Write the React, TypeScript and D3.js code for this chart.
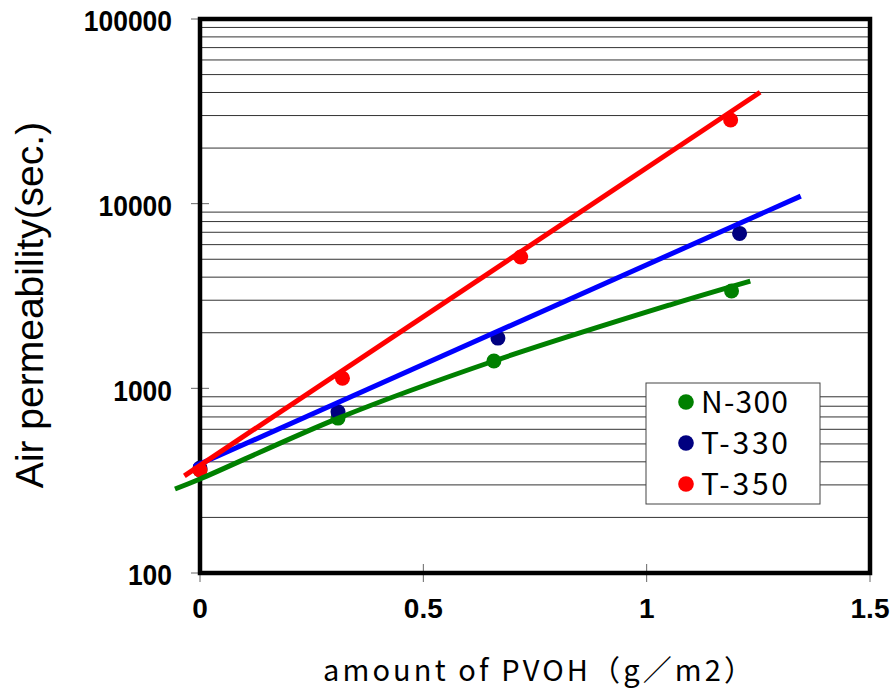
import React from "react";
import * as d3 from "d3";

// measured points
const n300Pts = [
  [0, 361],
  [0.309, 690],
  [0.658, 1406],
  [1.19, 3365],
];
const t330Pts = [
  [0, 370],
  [0.309, 746],
  [0.667, 1871],
  [1.208, 6904],
];
const t350Pts = [
  [0, 361],
  [0.319, 1133],
  [0.718, 5140],
  [1.188, 28400],
];

// trend lines
const n300Trend = [
  [-0.056, 285],
  [0, 323],
  [0.31, 690],
  [0.658, 1406],
  [1.051, 2826],
  [1.232, 3810],
];
const t330Trend = [
  [-0.013, 377],
  [1.345, 10990],
];
const t350Trend = [
  [-0.035, 336],
  [1.254, 40100],
];

const seriesNames = ["N-300", "T-330", "T-350"];
const xTicks = [0, 0.5, 1, 1.5];
const xTickLabels = ["0", "0.5", "1", "1.5"];
const yTicks = [100, 1000, 10000, 100000];
const yTickLabels = ["100", "1000", "10000", "100000"];

const W = 890;
const H = 691;
const plot = { left: 200, right: 870, top: 19, bottom: 573 };

export default function App() {
  const x = d3.scaleLinear().domain([0, 1.5]).range([plot.left, plot.right]);
  const y = d3.scaleLog().domain([100, 100000]).range([plot.bottom, plot.top]);

  const minorVals: number[] = [];
  [100, 1000, 10000].forEach((dec) => {
    for (let k = 2; k <= 9; k++) minorVals.push(dec * k);
  });

  const straight = d3
    .line<number[]>()
    .x((d) => x(d[0]))
    .y((d) => y(d[1]));
  const smooth = d3
    .line<number[]>()
    .x((d) => x(d[0]))
    .y((d) => y(d[1]))
    .curve(d3.curveCatmullRom);

  const series = [
    { name: seriesNames[0], pts: n300Pts, trend: n300Trend, line: "#008000", dot: "#008000", gen: smooth },
    { name: seriesNames[1], pts: t330Pts, trend: t330Trend, line: "#0000ff", dot: "#000080", gen: straight },
    { name: seriesNames[2], pts: t350Pts, trend: t350Trend, line: "#ff0000", dot: "#ff0000", gen: straight },
  ];

  const legend = { x: 646, y: 383, w: 174, h: 121 };

  return (
    <svg
      width={W}
      height={H}
      style={{ position: "absolute", left: 0, top: 0, background: "#fff" }}
    >
      <rect x={0} y={0} width={W} height={H} fill="#fff" />
      {/* minor gridlines */}
      {minorVals.map((v) => (
        <line
          key={v}
          x1={plot.left}
          x2={plot.right}
          y1={y(v)}
          y2={y(v)}
          stroke="#333"
          strokeWidth={1}
        />
      ))}
      {/* ticks */}
      {yTicks.map((v) => (
        <line key={"yt" + v} x1={plot.left - 9} x2={plot.left + 9} y1={y(v)} y2={y(v)} stroke="#666" strokeWidth={1} />
      ))}
      {xTicks.map((v) => (
        <line key={"xt" + v} x1={x(v)} x2={x(v)} y1={plot.bottom - 9} y2={plot.bottom + 9} stroke="#666" strokeWidth={1} />
      ))}
      {/* frame */}
      <rect
        x={plot.left}
        y={plot.top}
        width={plot.right - plot.left}
        height={plot.bottom - plot.top}
        fill="none"
        stroke="#000"
        strokeWidth={4.5}
      />
      {/* tick labels */}
      {yTicks.map((v, i) => (
        <text
          key={"yl" + v}
          x={172}
          y={y(v) + 2}
          dy="0.36em"
          textAnchor="end"
          fontFamily="Liberation Sans, Arial, sans-serif"
          fontWeight="bold"
          fontSize={29}
          textLength={14.7 * yTickLabels[i].length}
          lengthAdjust="spacingAndGlyphs"
        >
          {yTickLabels[i]}
        </text>
      ))}
      {xTicks.map((v, i) => (
        <text
          key={"xl" + v}
          x={x(v)}
          y={618}
          textAnchor="middle"
          fontFamily="Liberation Sans, Arial, sans-serif"
          fontWeight="bold"
          fontSize={28}
        >
          {xTickLabels[i]}
        </text>
      ))}
      {/* axis titles */}
      <text
        x={323}
        y={681}
        fontFamily="Noto Sans CJK JP, sans-serif"
        fontSize={29}
        textLength={430}
        lengthAdjust="spacing"
      >
        amount of PVOH（g／m2）
      </text>
      <text
        transform={`translate(43, 305) rotate(-90)`}
        textAnchor="middle"
        fontFamily="Liberation Sans, Arial, sans-serif"
        fontSize={39}
      >
        Air permeability(sec.)
      </text>
      {/* points */}
      {series.map((s) =>
        s.pts.map((p, i) => (
          <circle key={s.name + i} cx={x(p[0])} cy={y(p[1])} r={7.5} fill={s.dot} />
        ))
      )}
      {/* trend lines */}
      {series.map((s) => (
        <path key={s.name + "line"} d={s.gen(s.trend as any) || ""} fill="none" stroke={s.line} strokeWidth={5} />
      ))}
      {/* legend */}
      <rect x={legend.x} y={legend.y} width={legend.w} height={legend.h} fill="#fff" stroke="#444" strokeWidth={1} />
      {series.map((s, i) => (
        <g key={s.name + "leg"} transform={`translate(0, ${legend.y + 19 + i * 41})`}>
          <circle cx={686} cy={0} r={7.8} fill={s.dot} />
          <text
            x={701}
            y={0}
            dy="0.36em"
            fontFamily="Noto Sans CJK JP, sans-serif"
            fontSize={30}
            textLength={87}
            lengthAdjust="spacing"
          >
            {s.name}
          </text>
        </g>
      ))}
    </svg>
  );
}
